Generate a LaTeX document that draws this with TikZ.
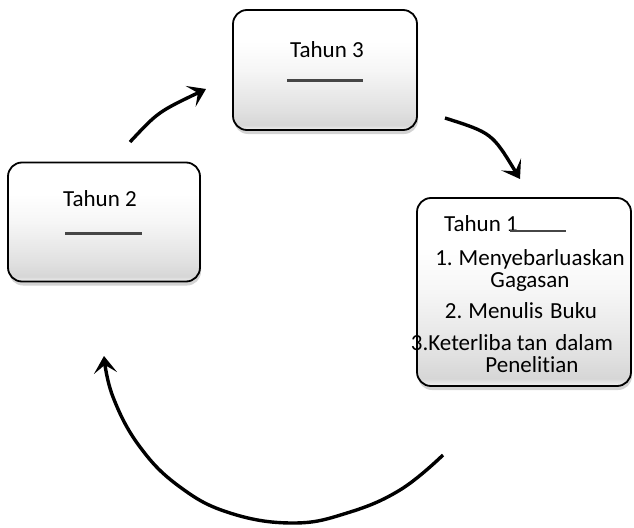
\documentclass[tikz,border=0pt]{standalone}
\usepackage{fontspec}
\setmainfont{Carlito}[Ligatures={NoCommon}]
\usetikzlibrary{arrows.meta,shadows}
\pgfdeclareverticalshading{boxshade}{100bp}{color(0bp)=(gray!10); color(25bp)=(gray!10); color(27bp)=(gray!32); color(33bp)=(gray!24); color(50bp)=(gray!7); color(62bp)=(white); color(100bp)=(white)}
\begin{document}
\begin{tikzpicture}[x=1pt,y=-1pt,
  yearbox/.style={draw=black, line width=1.8pt, rounded corners=14pt, shading=boxshade,
    drop shadow={shadow xshift=1pt, shadow yshift=-4pt, opacity=0.35, fill=gray}, inner sep=0pt},
  lbl/.style={anchor=base, inner sep=0pt, font=\fontsize{23}{26}\selectfont},
  bar/.style={draw=gray!55!black, line width=3pt},
  flow/.style={draw=black, line width=3.4pt, -{Stealth[length=17pt,width=23pt,inset=8pt]}}]
\useasboundingbox (0,0) rectangle (634,527);

% boxes
\node[yearbox, minimum width=184pt, minimum height=120pt] (t3) at (325,70) {};
\node[yearbox, minimum width=192pt, minimum height=119pt] (t2) at (104,222) {};
\node[yearbox, minimum width=214pt, minimum height=188pt] (t1) at (524,292) {};

% Tahun 3
\node[lbl] (t3txt) at (327,57) {Tahun 3};
\coordinate (t3a) at (287,80); \coordinate (t3b) at (363,80);
\draw[bar] (t3a) -- (t3b);

% Tahun 2
\node[lbl] (t2txt) at (100,206) {Tahun 2};
\coordinate (t2a) at (65,233); \coordinate (t2b) at (142,233);
\draw[bar] (t2a) -- (t2b);

% Tahun 1
\node[lbl] (t1txt) at (481,231) {Tahun 1};
\coordinate (t1a) at (510,231); \coordinate (t1b) at (566,231);
\draw[bar, line width=2.5pt] (t1a) -- (t1b);
\node[lbl] (i1) at (530,265) {1.\hspace{6pt}Menyebarluaskan};
\node[lbl] (i1b) at (530,287) {Gagasan};
\node[lbl] (i2) at (521,318) {2.\hspace{6pt}Menulis\hspace{7pt}Buku};
\node[lbl] (i3) at (512,350) {3.Keterliba\hspace{5pt}tan\hspace{8pt}dalam};
\node[lbl] (i3b) at (532,372) {Penelitian};

% arrows
\coordinate (a1s) at (130,142); \coordinate (a1e) at (206,89);
\draw[flow] (a1s) .. controls (158,112) .. (a1e);
\coordinate (a2s) at (445,118); \coordinate (a2e) at (520,179);
\draw[flow] (a2s) .. controls (492,133) .. (a2e);
\draw[flow] plot[smooth, tension=0.7] coordinates {(443,455) (400,490) (347,513) (293,523) (230,513) (180,487) (140,447) (113,397) (104,356)};
\end{tikzpicture}
\end{document}
